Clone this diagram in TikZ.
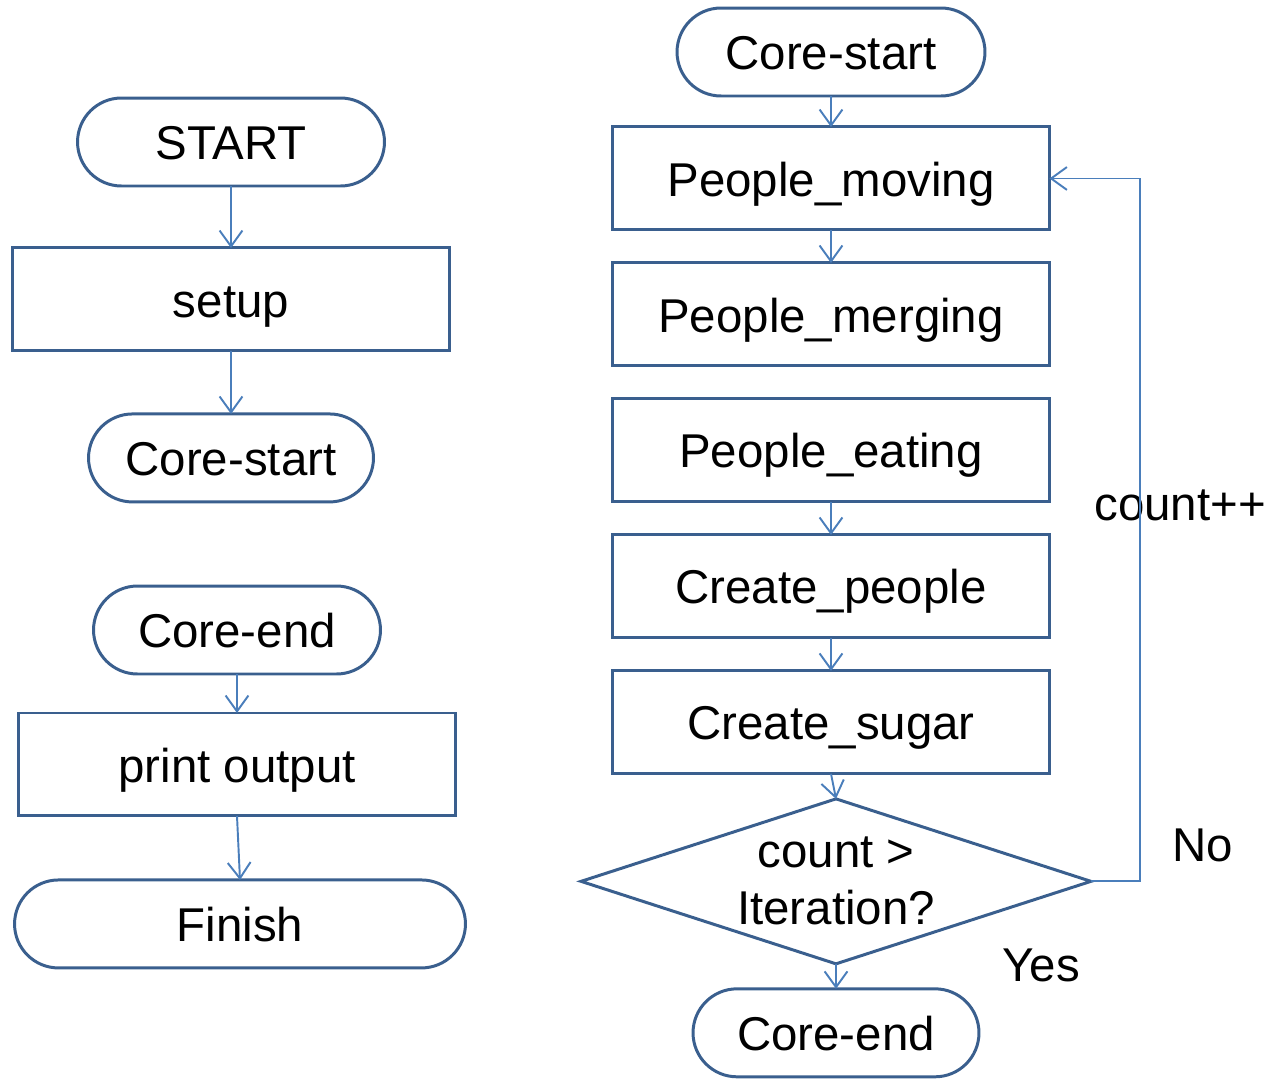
\documentclass[tikz,border=0pt]{standalone}
\usepackage{fontspec}
\setmainfont{Liberation Sans}
\usepackage{tikz}
\usetikzlibrary{shapes.geometric, shapes.misc, arrows.meta, positioning}
\definecolor{edgeblue}{HTML}{3A5F8E}
\definecolor{arrowblue}{HTML}{4A7EBB}

\begin{document}
\begin{tikzpicture}[
  x=0.02cm, y=-0.02cm,
  term/.style={rounded rectangle, minimum height=1.76cm, inner sep=0pt, outer sep=0pt,
               text height=25pt, text depth=5pt,
               font=\fontsize{27}{32.4}\selectfont, draw=edgeblue, line width=1.7pt},
  box/.style={rectangle, minimum width=8.74cm, minimum height=2.06cm, outer sep=0pt,
              text height=25pt, text depth=5pt,
              font=\fontsize{27}{32.4}\selectfont, draw=edgeblue, line width=1.7pt},
  dec/.style={diamond, minimum width=10.2cm, minimum height=3.3cm, inner sep=0pt,
              outer sep=0pt, draw=edgeblue, line width=1.7pt},
  arr/.style={-{Straight Barb[length=9pt, width=13pt]}, arrowblue, line width=1.1pt},
  lbl/.style={font=\fontsize{27}{32.4}\selectfont},
]
  \useasboundingbox (0,0) rectangle (1271,1079);

  % left column
  \node[term, minimum width=6.14cm] (start) at (231,142) {START};
  \node[box, below=1.24cm of start] (setup) {setup};
  \node[term, minimum width=5.7cm, below=1.26cm of setup] (cs1) {Core-start};

  \node[term, minimum width=5.74cm] (ce1) at (237,630) {Core-end};
  \node[box, below=0.78cm of ce1] (print) {print output};
  \node[term, minimum width=9.02cm, below=1.28cm of print, xshift=0.06cm] (finish) {Finish};

  % right column
  \node[term, minimum width=6.16cm] (cs2) at (831,52) {Core-start};
  \node[box, below=0.62cm of cs2] (move) {People\_moving};
  \node[box, below=0.66cm of move] (merge) {People\_merging};
  \node[box, below=0.66cm of merge] (eat) {People\_eating};
  \node[box, below=0.66cm of eat] (cpeople) {Create\_people};
  \node[box, below=0.66cm of cpeople] (csugar) {Create\_sugar};
  \node[dec, below=0.5cm of csugar, xshift=0.1cm] (iter) {};
  \node[lbl, align=center] (itertxt) at (iter.center) {count >\\Iteration?};
  \node[term, minimum width=5.72cm, below=0.5cm of iter] (ce2) {Core-end};

  \coordinate (loop) at (1140,882);
  \node[lbl] (cnt) at (1180,505) {count++};
  \node[lbl] (no)  at (1203,845) {No};
  \node[lbl] (yes) at (1041,965) {Yes};

  \draw[arr] (start)  -- (setup);
  \draw[arr] (setup)  -- (cs1);
  \draw[arr] (ce1)    -- (print);
  \draw[arr] (print.south) -- (finish.north);

  \draw[arr] (cs2)     -- (move);
  \draw[arr] (move)    -- (merge);
  \draw[arr] (eat)     -- (cpeople);
  \draw[arr] (cpeople) -- (csugar);
  \draw[arr] (csugar.south) -- (iter.north);
  \draw[arr] (iter)    -- (ce2);
  \draw[arr] (iter.east) -- (iter.east -| loop) |- (move.east);
\end{tikzpicture}
\end{document}
